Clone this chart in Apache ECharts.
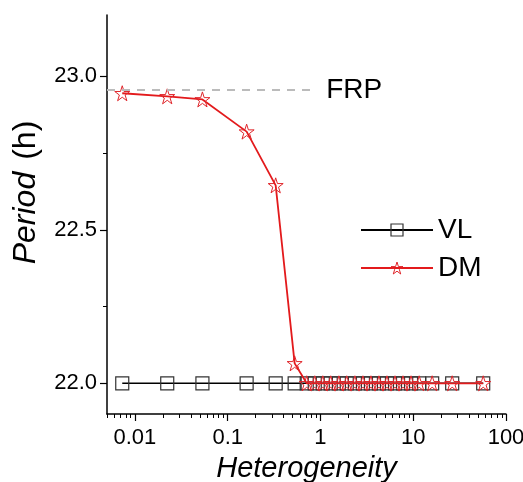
<!DOCTYPE html>
<html>
<head>
<meta charset="utf-8">
<script src="https://cdn.jsdelivr.net/npm/echarts@6/dist/echarts.min.js"></script>
<style>
html, body { margin: 0; padding: 0; background: #fff; }
#chart { width: 523px; height: 482px; }
</style>
</head>
<body>
<div id="chart"></div>
<script>
// Heterogeneity (x) values, shared by both series
var hetero = [0.0073, 0.0223, 0.0534, 0.160, 0.329, 0.527, 0.711, 0.868, 1.06, 1.29,
              1.58, 1.92, 2.35, 2.87, 3.50, 4.27, 5.21, 6.36, 7.76, 9.47,
              11.6, 16.0, 26.3, 56.8];
// Period (h)
var periodVL = [22.0, 22.0, 22.0, 22.0, 22.0, 22.0, 22.0, 22.0, 22.0, 22.0,
                22.0, 22.0, 22.0, 22.0, 22.0, 22.0, 22.0, 22.0, 22.0, 22.0,
                22.0, 22.0, 22.0, 22.0];
var periodDM = [22.945, 22.935, 22.925, 22.82, 22.645, 22.065, 22.0, 22.0, 22.0, 22.0,
                22.0, 22.0, 22.0, 22.0, 22.0, 22.0, 22.0, 22.0, 22.0, 22.0,
                22.0, 22.0, 22.0, 22.0];
var frpPeriod = 22.955;
var frpRange = [0.005, 0.9];

var xTicks = [0.01, 0.1, 1, 10, 100];
var xTickLabels = ['0.01', '0.1', '1', '10', '100'];
var yTicks = [22.0, 22.5, 23.0];
var yMinorTicks = [22.25, 22.75];

var xMin = 0.005, xMax = 100;
var yMin = 21.9, yMax = 23.2;

// minor ticks of the log axis: 2..9 x 10^k
var xMinorTicks = [];
[0.001, 0.01, 0.1, 1, 10].forEach(function (d) {
    for (var k = 2; k <= 9; k++) {
        var v = +(k * d).toPrecision(3);
        if (v >= xMin && v <= xMax) xMinorTicks.push(v);
    }
});

var FONT = 'Arial, "Liberation Sans", sans-serif';
var STAR = 'path://M50,0 L61.23,34.55 L97.55,34.55 L68.16,55.9 L79.39,90.45 L50,69.1 L20.61,90.45 L31.84,55.9 L2.45,34.55 L38.77,34.55 Z';

var vlItem = { color: 'rgba(255,255,255,0)', borderColor: '#333', borderWidth: 1.2 };
var dmItem = { color: 'rgba(255,255,255,0)', borderColor: '#e0262b', borderWidth: 1 };

function pairs(xs, ys) {
    return xs.map(function (x, i) { return [x, ys[i]]; });
}

var chart = echarts.init(document.getElementById('chart'));

var option = {
    animation: false,
    backgroundColor: '#fff',
    textStyle: { fontFamily: FONT },
    grid: { left: 107, right: 17, top: 15, bottom: 68, outerBoundsMode: 'none', containLabel: false },
    legend: {
        orient: 'vertical',
        left: 355,
        top: 211,
        itemWidth: 72,
        itemHeight: 15,
        itemGap: 10,
        data: [
            { name: 'VL', itemStyle: vlItem },
            { name: 'DM', itemStyle: dmItem }
        ],
        textStyle: { fontSize: 28, color: '#000', fontFamily: FONT }
    },
    xAxis: [{
        type: 'log',
        min: xMin,
        max: xMax,
        position: 'bottom',
        name: 'Heterogeneity',
        nameLocation: 'middle',
        nameGap: 40,
        nameTextStyle: { fontSize: 29, fontStyle: 'italic', color: '#000', fontFamily: FONT },
        axisLine: { onZero: false, lineStyle: { color: '#000', width: 1.5 } },
        axisTick: { customValues: xTicks, length: 7, lineStyle: { color: '#000', width: 1.2 } },
        axisLabel: {
            customValues: xTicks,
            margin: 13,
            fontSize: 22,
            color: '#000',
            formatter: function (v) {
                for (var i = 0; i < xTicks.length; i++) {
                    if (Math.abs(Math.log10(v) - Math.log10(xTicks[i])) < 1e-6) return xTickLabels[i];
                }
                return '';
            }
        },
        splitLine: { show: false }
    }, {
        type: 'log',
        min: xMin,
        max: xMax,
        position: 'bottom',
        axisLine: { show: false, onZero: false },
        axisTick: { customValues: xMinorTicks, length: 4, lineStyle: { color: '#000', width: 1 } },
        axisLabel: { show: false },
        splitLine: { show: false }
    }],
    yAxis: [{
        type: 'value',
        min: yMin,
        max: yMax,
        position: 'left',
        name: '{i|Period}{h|(h)}',
        nameLocation: 'middle',
        nameGap: 65,
        nameTextStyle: {
            fontSize: 32, color: '#000', fontFamily: FONT,
            padding: [0, 0, 0, 44],
            rich: {
                i: { fontSize: 32, fontStyle: 'italic', color: '#000', fontFamily: FONT },
                h: { fontSize: 32, color: '#000', fontFamily: FONT, padding: [0, 0, 0, 12] }
            }
        },
        axisLine: { show: true, onZero: false, lineStyle: { color: '#000', width: 1.5 } },
        axisTick: { show: true, customValues: yTicks, length: 7, lineStyle: { color: '#000', width: 1.2 } },
        axisLabel: {
            customValues: yTicks,
            margin: 10,
            fontSize: 22,
            color: '#000',
            formatter: function (v) { return v.toFixed(1); }
        },
        splitLine: { show: false }
    }, {
        type: 'value',
        min: yMin,
        max: yMax,
        position: 'left',
        axisLine: { show: false, onZero: false },
        axisTick: { show: true, customValues: yMinorTicks, length: 4, lineStyle: { color: '#000', width: 1 } },
        axisLabel: { show: false },
        splitLine: { show: false }
    }],
    series: [{
        name: 'VL',
        type: 'line',
        xAxisIndex: 0,
        yAxisIndex: 0,
        data: pairs(hetero, periodVL),
        symbol: 'rect',
        symbolSize: 13,
        itemStyle: vlItem,
        lineStyle: { color: '#000', width: 1.5 },
        z: 2
    }, {
        name: 'DM',
        type: 'line',
        xAxisIndex: 0,
        yAxisIndex: 0,
        data: pairs(hetero, periodDM),
        symbol: STAR,
        symbolSize: 15,
        itemStyle: dmItem,
        lineStyle: { color: '#e31a1c', width: 1.8 },
        z: 3,
        markLine: {
            silent: true,
            symbol: ['none', 'none'],
            lineStyle: { color: '#bbbbbb', type: [8, 7], width: 1.8 },
            label: {
                show: true,
                position: 'end',
                distance: 10,
                formatter: 'FRP',
                fontSize: 28,
                color: '#000',
                fontFamily: FONT
            },
            data: [[{ coord: [frpRange[0], frpPeriod] }, { coord: [frpRange[1], frpPeriod] }]]
        }
    }]
};

chart.setOption(option);
</script>
</body>
</html>
